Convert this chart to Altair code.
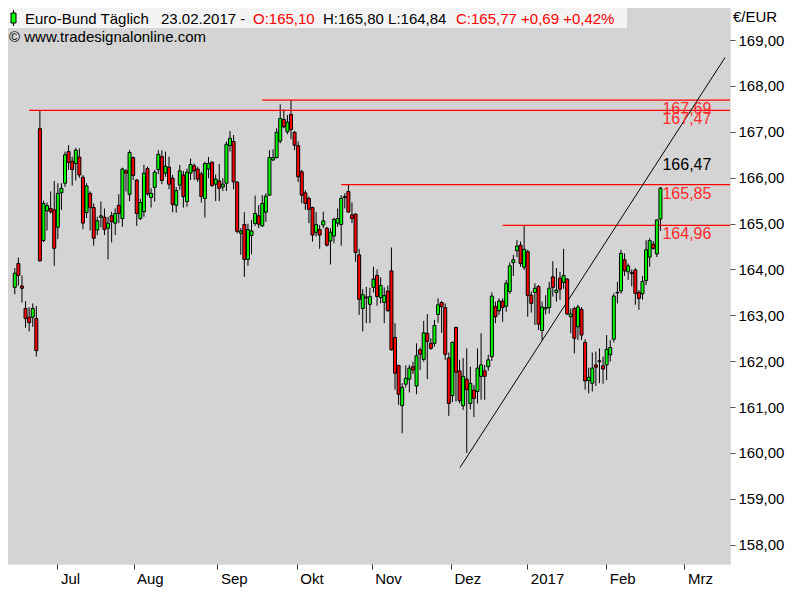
import altair as alt
import pandas as pd

# ---------------- data ----------------
opens = [163.61, 164.13, 163.64, 163.15, 162.96, 162.96, 162.93, 167.07, 164.63, 165.28,
         165.33, 165.30, 164.92, 165.67, 165.88, 166.57, 166.36, 166.31, 166.45, 166.01,
         165.24, 165.66, 165.35, 164.86, 165.14, 165.14, 164.90, 165.17, 165.01, 165.40,
         165.11, 166.15, 165.64, 166.44, 165.95, 165.11, 165.26, 166.20, 165.57, 165.79,
         166.18, 166.46, 166.10, 166.23, 165.99, 165.40, 165.84, 166.06, 165.48, 166.10,
         166.26, 166.19, 166.08, 165.55, 166.19, 166.34, 165.86, 165.93, 165.80, 165.88,
         166.70, 166.79, 165.90, 164.79, 164.98, 164.22, 164.74, 165.00, 165.17, 164.95,
         165.25, 165.62, 166.39, 166.44, 166.80, 167.27, 167.00, 167.38, 166.99, 166.70,
         166.13, 165.67, 165.55, 165.35, 164.81, 164.87, 164.97, 164.90, 164.62, 164.73,
         165.01, 164.98, 165.57, 165.70, 165.19, 165.21, 164.32, 163.15, 163.40, 163.24,
         163.61, 163.87, 163.39, 163.28, 163.53, 163.97, 162.52, 161.91, 161.03, 161.50,
         161.61, 161.88, 161.46, 162.25, 162.04, 162.61, 162.39, 162.39, 163.02, 163.28,
         163.17, 162.07, 161.25, 162.74, 161.79, 161.03, 161.61, 161.08, 161.37, 161.34,
         161.67, 161.79, 161.88, 162.10, 163.19, 163.10, 163.31, 163.20, 163.52, 164.15,
         164.41, 164.53, 164.05, 164.39, 163.44, 163.50, 163.63, 162.67, 163.14, 163.17,
         163.84, 163.50, 163.81, 163.72, 163.79, 162.97, 163.15, 162.75, 163.13, 162.41,
         161.58, 161.52, 161.92, 161.99, 161.90, 161.92, 162.14, 162.48, 163.49, 163.53,
         164.21, 163.95, 163.93, 163.99, 163.50, 163.47, 163.76, 164.27, 164.55, 164.34,
         165.10]
highs = [164.03, 164.26, 163.87, 163.31, 163.18, 163.26, 163.20, 167.47, 165.50, 165.46,
         165.70, 165.93, 165.88, 165.88, 166.57, 166.71, 166.46, 166.65, 166.64, 166.06,
         165.88, 165.70, 165.44, 165.15, 165.48, 165.33, 165.15, 165.26, 165.33, 165.64,
         166.22, 166.19, 166.60, 166.46, 165.97, 165.54, 166.28, 166.24, 165.77, 166.17,
         166.60, 166.60, 166.57, 166.46, 166.06, 165.80, 166.28, 166.15, 166.20, 166.42,
         166.31, 166.24, 166.13, 166.35, 166.45, 166.35, 166.07, 166.30, 165.99, 166.79,
         167.02, 166.93, 165.93, 164.90, 165.25, 165.00, 165.08, 165.61, 165.40, 165.62,
         165.66, 166.60, 166.62, 167.08, 167.60, 167.49, 167.37, 167.69, 167.02, 166.79,
         166.17, 165.73, 165.59, 165.37, 165.25, 164.97, 165.26, 164.93, 164.90, 165.13,
         165.33, 165.62, 165.66, 165.85, 165.46, 165.22, 164.45, 163.57, 163.62, 163.60,
         164.06, 164.00, 163.83, 163.61, 163.65, 164.48, 162.83, 161.92, 161.52, 161.91,
         161.92, 161.99, 162.39, 162.30, 162.88, 163.03, 162.50, 162.90, 163.37, 163.31,
         163.26, 162.19, 162.43, 162.75, 162.03, 162.07, 162.28, 161.88, 161.48, 162.28,
         162.61, 161.92, 162.14, 163.50, 163.30, 163.37, 163.37, 163.77, 164.15, 164.32,
         164.64, 164.61, 164.96, 164.43, 163.52, 163.70, 163.66, 163.30, 163.44, 163.73,
         164.18, 164.03, 163.95, 164.45, 163.81, 163.15, 163.19, 163.23, 163.18, 162.48,
         161.86, 162.19, 162.21, 162.28, 162.10, 162.57, 162.46, 163.48, 163.73, 164.43,
         164.35, 164.13, 164.00, 164.03, 163.55, 163.86, 164.64, 164.68, 164.62, 165.09,
         165.80]
lows = [163.46, 163.65, 163.28, 162.73, 162.65, 162.75, 162.10, 164.17, 164.60, 164.85,
        165.22, 164.08, 164.66, 165.30, 165.80, 166.17, 165.83, 165.94, 166.00, 164.88,
        165.12, 164.85, 164.52, 164.75, 164.92, 164.75, 164.22, 164.59, 164.75, 165.01,
        164.93, 165.70, 165.49, 165.95, 164.95, 165.08, 165.15, 165.61, 165.35, 165.48,
        166.08, 165.86, 166.02, 165.75, 165.25, 165.24, 165.73, 165.35, 165.37, 165.95,
        165.95, 165.91, 165.46, 165.13, 165.99, 165.80, 165.49, 165.49, 165.71, 165.71,
        166.57, 165.75, 164.79, 164.32, 163.84, 164.08, 164.33, 164.95, 164.90, 164.93,
        165.04, 165.61, 166.36, 166.42, 166.75, 167.08, 166.95, 166.84, 166.60, 165.91,
        165.44, 165.30, 165.01, 164.61, 164.72, 164.45, 164.90, 164.50, 164.11, 164.57,
        164.93, 164.52, 165.33, 165.25, 165.01, 164.17, 163.01, 162.65, 162.83, 162.83,
        163.50, 163.21, 163.26, 162.83, 163.08, 162.23, 161.38, 161.05, 160.43, 161.43,
        161.32, 161.72, 161.28, 161.81, 161.99, 161.61, 162.25, 162.32, 162.84, 162.62,
        162.03, 160.81, 161.11, 161.12, 161.08, 160.94, 160.00, 160.95, 160.78, 161.08,
        161.16, 161.16, 161.79, 162.01, 162.83, 163.01, 162.86, 163.08, 163.47, 163.86,
        164.27, 164.06, 163.99, 162.97, 163.06, 162.79, 162.68, 162.46, 163.02, 163.04,
        163.41, 163.30, 163.34, 163.58, 163.01, 162.61, 162.17, 162.46, 162.46, 161.38,
        161.30, 161.34, 161.46, 161.52, 161.51, 161.59, 161.99, 162.41, 163.26, 163.47,
        163.86, 163.77, 163.63, 163.23, 163.12, 163.34, 163.66, 164.06, 164.43, 164.27,
        164.84]
closes = [163.92, 163.87, 163.59, 162.93, 162.84, 163.15, 162.23, 164.19, 165.44, 165.39,
          165.26, 164.46, 165.66, 165.77, 166.50, 166.33, 166.18, 166.60, 166.06, 165.01,
          165.82, 165.35, 164.68, 165.06, 165.17, 164.87, 165.01, 165.04, 165.22, 165.22,
          166.19, 166.10, 166.55, 166.05, 165.22, 165.46, 166.10, 165.65, 165.66, 166.12,
          166.51, 165.94, 166.25, 165.86, 165.42, 165.72, 166.15, 165.59, 166.12, 166.29,
          166.15, 165.97, 165.59, 166.31, 166.31, 165.83, 165.97, 165.77, 165.86, 166.73,
          166.86, 165.91, 164.83, 164.84, 164.22, 164.87, 164.84, 165.22, 164.99, 165.44,
          165.60, 166.44, 166.44, 166.99, 167.29, 167.11, 167.21, 167.05, 166.71, 166.02,
          165.62, 165.44, 165.31, 164.75, 164.98, 164.75, 165.06, 164.53, 164.81, 165.09,
          165.11, 165.55, 165.59, 165.25, 165.11, 164.37, 163.35, 163.45, 163.38, 163.41,
          163.79, 163.41, 163.65, 163.43, 163.10, 162.25, 161.74, 161.28, 161.43, 161.63,
          161.85, 161.81, 162.12, 162.15, 162.62, 162.43, 162.28, 162.78, 163.23, 163.19,
          162.15, 161.08, 162.41, 161.76, 161.14, 161.67, 161.38, 161.52, 161.19, 161.85,
          161.92, 161.67, 162.03, 163.42, 162.97, 163.31, 163.17, 163.70, 164.08, 164.21,
          164.51, 164.13, 164.44, 163.43, 163.26, 163.59, 162.81, 163.18, 163.17, 163.59,
          163.61, 163.55, 163.57, 163.87, 163.03, 163.03, 162.50, 163.18, 162.57, 161.57,
          161.65, 161.85, 161.87, 162.01, 161.83, 162.26, 162.30, 163.42, 163.50, 164.35,
          163.97, 164.08, 163.91, 163.48, 163.37, 163.74, 164.43, 164.63, 164.46, 165.08,
          165.77]

month_ticks = [12.9, 34.1, 57.5, 79.6, 100.5, 122.6, 143.9, 165.9, 187.7]
month_labels = ["Jul", "Aug", "Sep", "Okt", "Nov", "Dez", "2017", "Feb", "Mrz"]
price_ticks = [158, 159, 160, 161, 162, 163, 164, 165, 166, 167, 168, 169]

level_values = [167.69, 167.47, 165.85, 164.96]
level_start = [70, 5, 92, 137]
level_labels = ["167,69", "167,47", "165,85", "164,96"]

trend_idx = [125.1, 199.0]
trend_price = [159.68, 168.62]
trend_value = 166.47
trend_text = "166,47"

header_parts = ["Euro-Bund Täglich", "23.02.2017 -", "O:165,10", "H:165,80 L:164,84", "C:165,77 +0,69 +0,42%"]
header_colors = ["black", "black", "#ff0000", "black", "#ff0000"]
header_x = [17, 153, 245, 315, 448]

# ---------------- layout ----------------
W, H = 722, 556
FONT = "Liberation Sans"
n = len(opens)
idx = list(range(1, n + 1))
last_idx = idx[-1]

df = pd.DataFrame({"idx": idx, "open": opens, "high": highs, "low": lows, "close": closes})
df["dir"] = ["up" if c >= o else "down" for o, c in zip(opens, closes)]
df["body_lo"] = df[["open", "close"]].min(axis=1)
df["body_hi"] = df[["open", "close"]].max(axis=1)

x_scale = alt.Scale(domain=[0.5, 199.0], nice=False, zero=False)
y_scale = alt.Scale(domain=[157.58, 169.70], nice=False, zero=False)

label_list = "[" + ",".join("'%s'" % m for m in month_labels) + "]"
tick_list = "[" + ",".join(str(t) for t in month_ticks) + "]"
x_axis = alt.Axis(values=month_ticks, labelExpr=f"{label_list}[indexof({tick_list}, datum.value)]",
                  grid=False, domain=False, tickSize=5, tickColor="#333333", labelAlign="left",
                  labelBaseline="top", labelOffset=3, labelPadding=2, labelFontSize=15,
                  labelFont=FONT, labelColor="black", title=None, labelOverlap=False,
                  labelFlush=False)
y_axis = alt.Axis(orient="right", values=price_ticks,
                  labelExpr="replace(format(datum.value, '.2f'), '.', ',')",
                  grid=True, gridDash=[1, 5], gridColor="#8a8a8a", gridWidth=1,
                  domain=False, tickSize=5, tickColor="#555555", labelPadding=3,
                  labelFontSize=15, labelFont=FONT, labelColor="black", title=None)

one = pd.DataFrame({"a": [0]})
plot_bg = alt.Chart(one).mark_rect(color="#d4d4d4").encode(
    x=alt.value(0), x2=alt.value(W), y=alt.value(0), y2=alt.value(H))

base = alt.Chart(df)
wicks = base.mark_rule(color="black", strokeWidth=1).encode(
    x=alt.X("idx:Q", scale=x_scale, axis=x_axis),
    y=alt.Y("low:Q", scale=y_scale, axis=y_axis),
    y2="high:Q",
)
bodies = base.mark_bar(width=3, stroke="black", strokeWidth=1).encode(
    x="idx:Q",
    y="body_lo:Q",
    y2="body_hi:Q",
    color=alt.Color("dir:N", scale=alt.Scale(domain=["up", "down"], range=["#00ff00", "#ff0000"]), legend=None),
)

lv = pd.DataFrame({"value": level_values, "start": level_start, "label": level_labels, "lx": [last_idx] * 4})
level_rules = alt.Chart(lv).mark_rule(color="#ff0000", strokeWidth=1.2).encode(
    x="start:Q", x2=alt.value(W), y="value:Q")
level_text = alt.Chart(lv).mark_text(align="left", baseline="top", dx=2, dy=1, fontSize=16,
                                     font=FONT, color="#ff2a2a").encode(
    x="lx:Q", y="value:Q", text="label:N")

tdf = pd.DataFrame({"idx": trend_idx, "price": trend_price})
trend = alt.Chart(tdf).mark_line(color="black", strokeWidth=1, clip=True).encode(
    x="idx:Q", y="price:Q")
tl = pd.DataFrame({"lx": [last_idx], "value": [trend_value], "label": [trend_text]})
trend_lbl = alt.Chart(tl).mark_text(align="left", baseline="top", dx=2, dy=1, fontSize=16,
                                    font=FONT, color="black").encode(
    x="lx:Q", y="value:Q", text="label:N")

header_box = alt.Chart(one).mark_rect(color="#f4f4f4").encode(
    x=alt.value(0), x2=alt.value(619), y=alt.value(0), y2=alt.value(20))
icon_wick = alt.Chart(one).mark_rule(color="black", strokeWidth=1).encode(
    x=alt.value(5.5), y=alt.value(2), y2=alt.value(18))
icon_body = alt.Chart(one).mark_rect(color="#00ff00", stroke="black", strokeWidth=1).encode(
    x=alt.value(3), x2=alt.value(8), y=alt.value(5), y2=alt.value(15))

header_layers = []
for t, c, px in zip(header_parts, header_colors, header_x):
    header_layers.append(
        alt.Chart(pd.DataFrame({"t": [t]})).mark_text(align="left", baseline="middle", fontSize=15,
                                                      font=FONT, color=c).encode(
            x=alt.value(px), y=alt.value(10.5), text="t:N"))
copyright_txt = alt.Chart(pd.DataFrame({"t": ["© www.tradesignalonline.com"]})).mark_text(
    align="left", baseline="middle", fontSize=15, font=FONT, color="black").encode(
    x=alt.value(1), y=alt.value(29), text="t:N")
unit_txt = alt.Chart(pd.DataFrame({"t": ["€/EUR"]})).mark_text(
    align="left", baseline="middle", fontSize=15, font=FONT, color="black").encode(
    x=alt.value(725), y=alt.value(9), text="t:N")

chart = alt.layer(
    plot_bg, wicks, level_rules, trend, bodies, level_text, trend_lbl,
    header_box, icon_wick, icon_body, *header_layers, copyright_txt, unit_txt
).properties(
    width=W, height=H,
    autosize=alt.AutoSizeParams(type="none"),
    padding={"left": 0, "top": 0, "right": 60, "bottom": 26},
    background="white",
).configure_view(
    stroke="#8c8c8c", strokeWidth=1
).configure(font=FONT)

chart.save("out.html", embed_options={"renderer": "svg", "actions": False})
